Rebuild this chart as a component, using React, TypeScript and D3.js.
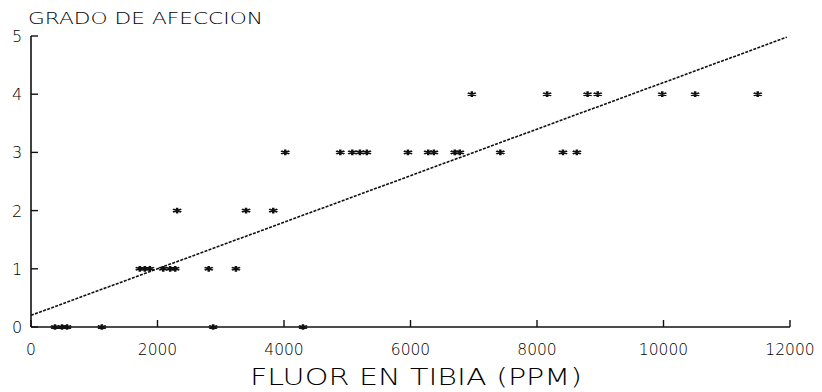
import { useEffect, useRef } from 'react';
import * as d3 from 'd3';

// Fluor en tibia (ppm) y grado de afeccion observado
const grado0 = [380, 490, 570, 1120, 2880, 4300];
const grado1 = [1720, 1800, 1880, 2090, 2200, 2280, 2810, 3240];
const grado2 = [2310, 3400, 3830];
const grado3 = [4020, 4890, 5080, 5200, 5310, 5960, 6280, 6370, 6700, 6780, 7420, 8410, 8630];
const grado4 = [6970, 8160, 8800, 8960, 9980, 10500, 11490];

const xTicks = [0, 2000, 4000, 6000, 8000, 10000, 12000];
const yTicks = [0, 1, 2, 3, 4, 5];

// recta de regresion
const intercept = 0.2;
const slope = 0.0004;
const lineEnd = 11950;

export default function App() {
  const svgRef = useRef<SVGSVGElement>(null);

  useEffect(() => {
    if (!svgRef.current) return;
    const width = 822;
    const height = 392;
    const svg = d3.select(svgRef.current);
    svg.selectAll('*').remove();

    const x = d3.scaleLinear().domain([0, 12000]).range([31, 790]);
    const y = d3.scaleLinear().domain([0, 5]).range([327, 36]);

    const points = [
      ...grado0.map((v) => ({ fl: v, g: 0 })),
      ...grado1.map((v) => ({ fl: v, g: 1 })),
      ...grado2.map((v) => ({ fl: v, g: 2 })),
      ...grado3.map((v) => ({ fl: v, g: 3 })),
      ...grado4.map((v) => ({ fl: v, g: 4 })),
    ];

    svg.append('rect').attr('width', width).attr('height', height).attr('fill', '#fff');

    const font = (sel: any, size: number) =>
      sel
        .style('font-family', 'DejaVu Sans')
        .style('font-weight', '200')
        .style('font-size', `${size}px`)
        .style('fill', '#000');

    // Y axis
    svg.append('line')
      .attr('x1', x(0)).attr('x2', x(0))
      .attr('y1', y(5)).attr('y2', y(0))
      .attr('stroke', '#111').attr('stroke-width', 1.6);
    svg.selectAll('.ytick')
      .data(yTicks)
      .enter()
      .append('line')
      .attr('x1', x(0)).attr('x2', x(0) + 7)
      .attr('y1', (d) => y(d)).attr('y2', (d) => y(d))
      .attr('stroke', '#111').attr('stroke-width', 1.4);
    font(
      svg.selectAll('.ylab')
        .data(yTicks)
        .enter()
        .append('text')
        .attr('x', 17)
        .attr('y', (d) => y(d) + 6)
        .attr('text-anchor', 'middle'),
      16
    ).text((d: number) => d);

    // X axis
    svg.append('line')
      .attr('x1', x(0)).attr('x2', x(12000))
      .attr('y1', y(0)).attr('y2', y(0))
      .attr('stroke', '#111').attr('stroke-width', 1.6);
    svg.selectAll('.xtick')
      .data(xTicks)
      .enter()
      .append('line')
      .attr('x1', (d) => x(d)).attr('x2', (d) => x(d))
      .attr('y1', y(0)).attr('y2', y(0) - 7)
      .attr('stroke', '#111').attr('stroke-width', 1.4);
    font(
      svg.selectAll('.xlab')
        .data(xTicks)
        .enter()
        .append('text')
        .attr('x', (d) => x(d))
        .attr('y', 355)
        .attr('text-anchor', 'middle'),
      15.5
    ).text((d: number) => d);

    // Regression line
    svg.append('line')
      .attr('x1', x(0)).attr('y1', y(intercept))
      .attr('x2', x(lineEnd)).attr('y2', y(intercept + slope * lineEnd))
      .attr('stroke', '#111')
      .attr('stroke-width', 1.6)
      .attr('stroke-dasharray', '3 1.3');

    // Points
    const sym = d3.symbol(d3.symbolAsterisk, 40);
    svg.selectAll('.pt')
      .data(points)
      .enter()
      .append('path')
      .attr('d', sym)
      .attr('transform', (d) => `translate(${x(d.fl)},${y(d.g)}) scale(1.25,0.75)`)
      .attr('fill', 'none')
      .attr('stroke', '#111')
      .attr('stroke-width', 2);

    // Titles
    font(
      svg.append('text')
        .attr('x', 28)
        .attr('y', 24)
        .attr('textLength', 235)
        .attr('lengthAdjust', 'spacingAndGlyphs'),
      16
    ).text('GRADO DE AFECCION');

    font(
      svg.append('text')
        .attr('x', 250)
        .attr('y', 385)
        .attr('textLength', 332)
        .attr('lengthAdjust', 'spacingAndGlyphs'),
      23
    ).text('FLUOR EN TIBIA (PPM)');
  }, []);

  return (
    <svg
      ref={svgRef}
      width={822}
      height={392}
      viewBox="0 0 822 392"
      style={{ position: 'absolute', left: 0, top: 0 }}
    />
  );
}
